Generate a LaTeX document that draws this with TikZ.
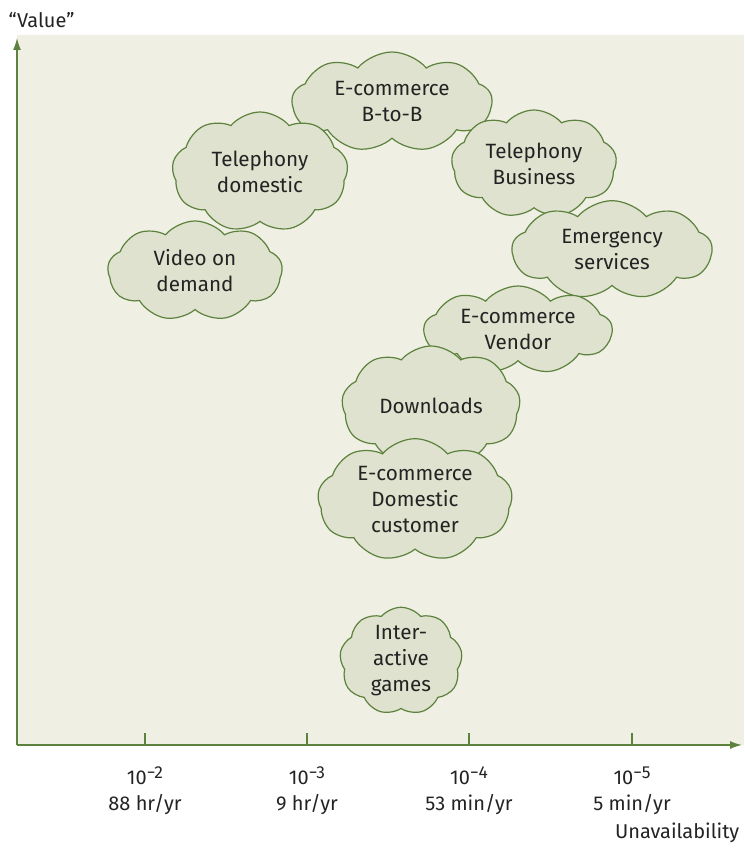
\documentclass[tikz,border=0pt]{standalone}
\usepackage{fontspec}
\setmainfont{Fira Sans}
\usetikzlibrary{shapes.symbols,arrows.meta}
\definecolor{bgpaper}{RGB}{239,239,227}
\definecolor{puff}{RGB}{223,226,206}
\definecolor{leaf}{RGB}{92,130,62}
\definecolor{ink}{RGB}{35,35,35}

\begin{document}
\begin{tikzpicture}[x=0.75pt,y=-0.75pt,
  svc/.style={cloud,cloud puffs=9,cloud puff arc=100,cloud ignores aspect,draw=leaf,line width=0.9pt,fill=puff,
    align=center,inner sep=0pt,text=ink,font=\fontsize{15.5}{19.5}\selectfont},
  axisline/.style={leaf,line width=1pt},
  lbl/.style={text=ink,align=center,font=\fontsize{15}{20}\selectfont}]
\useasboundingbox (0,0) rectangle (744,848);
\fill[bgpaper] (17,35) rectangle (744,745);
% axes
\coordinate (o) at (17,745);
\coordinate (ytop) at (17,38);
\coordinate (xend) at (742,745);
\draw[axisline,-{Latex[length=9pt,width=6pt]}] (o) -- (ytop);
\draw[axisline,-{Latex[length=9pt,width=6pt]}] (o) -- (xend);
\node[lbl,anchor=west] (val) at (4,20) {“Value”};
\node[lbl,anchor=east] (unav) at (744,833) {Unavailability};
% ticks
\foreach \x/\e/\t [count=\i] in {145/2/{88 hr/yr}, 307/3/{9 hr/yr}, 469/4/{53 min/yr}, 632/5/{5 min/yr}} {
  \coordinate (tk\i) at (\x,745);
  \coordinate (tt\i) at (\x,733);
  \draw[axisline] (tk\i) -- (tt\i);
  \node[lbl] (tl\i) at (\x,791) {10\raisebox{0.55ex}{\fontsize{13}{13}\selectfont −\e}\\\t};
}
% services
\node[svc,minimum width=150pt,minimum height=75pt] (b2b) at (392,102) {E-commerce\\B-to-B};
\node[svc,minimum width=132pt,minimum height=90pt] (teldom) at (260,172) {Telephony\\domestic};
\node[svc,minimum width=124pt,minimum height=81pt] (telbus) at (534,164) {Telephony\\Business};
\node[svc,minimum width=131pt,minimum height=75pt] (vod) at (195,271) {Video on\\demand};
\node[svc,minimum width=150pt,minimum height=74pt] (emerg) at (612,250) {Emergency\\services};
\node[svc,minimum width=141pt,minimum height=66pt] (vendor) at (518,330) {E-commerce\\Vendor};
\node[svc,minimum width=134pt,minimum height=90pt] (dl) at (431,406) {Downloads};
\node[svc,minimum width=146pt,minimum height=92pt] (domcust) at (415,500) {E-commerce\\Domestic\\customer};
\node[svc,minimum width=92pt,minimum height=75pt] (games) at (401,661) {Inter-\\active\\games};
\end{tikzpicture}
\end{document}
